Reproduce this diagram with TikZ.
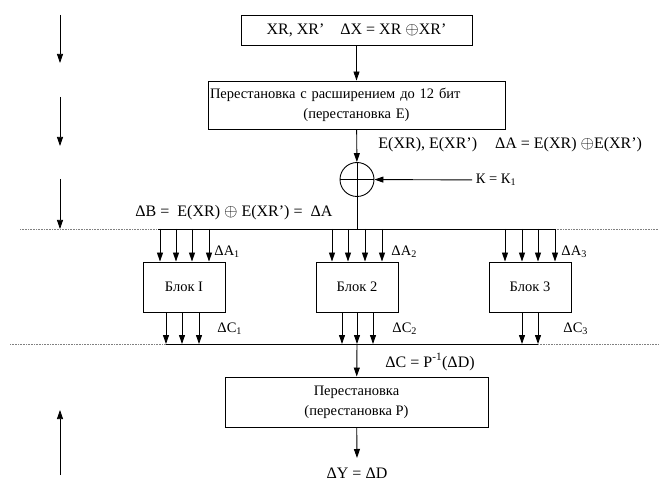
\documentclass[tikz,border=0pt]{standalone}
\usepackage{fontspec}
\setmainfont{Liberation Serif}
\usetikzlibrary{arrows.meta,positioning}

\begin{document}
\begin{tikzpicture}[x=1pt,y=-1pt,>={Triangle[length=9pt,width=6pt]},line width=0.9pt,
  font=\fontsize{14.5}{20}\selectfont,
  blok/.style={draw,minimum width=82pt,minimum height=50pt,inner sep=0pt},
  lab/.style={anchor=west,inner sep=0pt},
  formula/.style={font=\fontsize{16}{20}\selectfont},
  sep/.style={densely dotted,line width=0.6pt,gray}]
\useasboundingbox (0,0) rectangle (659,481);
% side arrows
\foreach \i/\ya/\yb in {1/15/63,2/97/146,3/179/229,4/475/410}
 {\coordinate (st\i) at (60,\ya);\coordinate (en\i) at (60,\yb);
  \draw[->,line width=0.7pt] (st\i) -- (en\i);}
% input and expansion
\node[draw,formula,minimum width=231pt,minimum height=30pt] (inp) at (356.5,30) {XR, XR’\quad ΔX = XR $\oplus$XR’};
\node[draw,text width=293pt,inner xsep=2pt,minimum height=48pt,align=center] (permE) at (356.5,105)
 {\makebox[\linewidth][l]{Перестановка с расширением до 12 бит}\\(перестановка E)};
\node[lab,formula] (eout) at (378,145) {E(XR), E(XR’)\hspace{18pt}ΔA = E(XR) $\oplus$E(XR’)};
\node[circle,draw,minimum size=34pt,inner sep=0pt] (xor) at (357,179.5) {};
\draw (xor.north) -- (xor.south) (xor.west) -- (xor.east);
\node[anchor=west] (key) at (472,180) {К = К\textsubscript{1}};
\draw[->] (inp) -- (permE);
\draw[->] (permE) -- (xor);
\draw[->] (key) -- (xor);
% upper bus
\coordinate (busA) at (357,229);
\coordinate (busAl) at (158,229);\coordinate (busAr) at (555,229);
\coordinate (dotAl) at (20,229);\coordinate (dotAr) at (659,229);
\draw[sep] (dotAl) -- (busAl) (busAr) -- (dotAr);
\draw (busAl) -- (busAr);
\draw (xor) -- (busA);
\node[lab,formula] (dB) at (135,213) {ΔB =\ \ E(XR) $\oplus$ E(XR’) =\ \ ΔA};
% blocks
\foreach \n/\cx/\lb in {1/184/I,2/357/2,3/530/3}
 \node[blok] (blk\n) at (\cx,287) {Блок \lb};
\foreach \n/\xs in {1/{160,176,192,209},2/{332,348,365,382},3/{505,522,538,555}}
 \foreach \x in \xs \draw[->] (\x,0 |- busA) -- (\x,0 |- blk\n.north);
\foreach \n/\x in {1/214,2/391,3/561} \node[lab] (dA\n) at (\x,252) {ΔA\textsubscript{\n}};
% lower bus
\coordinate (busC) at (357,344);
\coordinate (busCl) at (166,344);\coordinate (busCr) at (538,344);
\coordinate (dotCl) at (10,344);\coordinate (dotCr) at (659,344);
\draw[sep] (dotCl) -- (busCl) (busCr) -- (dotCr);
\draw (busCl) -- (busCr);
\foreach \n/\xs in {1/{166,182,199},2/{342,357,373},3/{522,538}}
 \foreach \x in \xs \draw[->] (\x,0 |- blk\n.south) -- (\x,0 |- busC);
\foreach \n/\x in {1/217,2/392,3/563} \node[lab] (dC\n) at (\x,329) {ΔC\textsubscript{\n}};
% output permutation
\node[draw,minimum width=263pt,minimum height=50pt,align=center] (permP) at (356.5,402)
 {Перестановка\\(перестановка P)};
\node[lab,formula] (dC) at (385,362) {ΔC = P\textsuperscript{-1}(ΔD)};
\draw[->] (busC) -- (permP);
\coordinate (outtip) at (357,458);
\draw[->] (permP) -- (outtip);
\node[formula,inner sep=0pt] (dY) at (357,473) {ΔY = ΔD};
\end{tikzpicture}
\end{document}
